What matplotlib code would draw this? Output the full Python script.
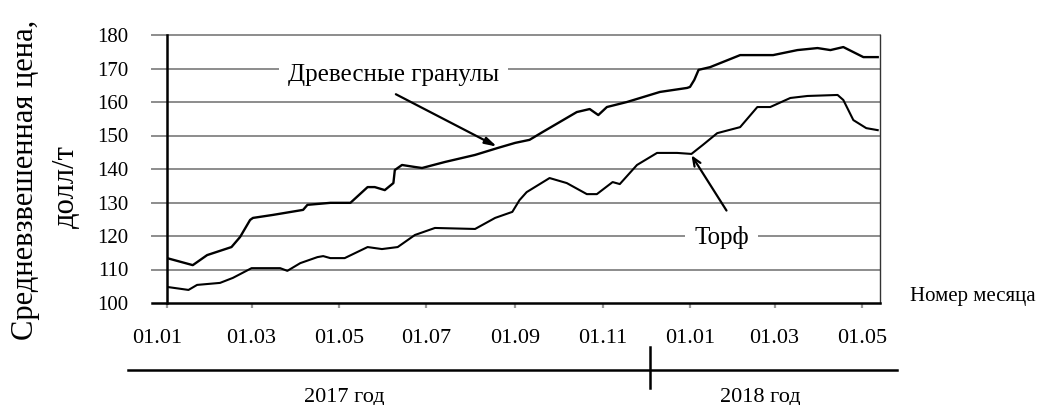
import matplotlib.pyplot as plt
from matplotlib.transforms import ScaledTranslation, blended_transform_factory

plt.rcParams['font.family'] = ['Liberation Serif', 'DejaVu Serif']

# days counted from 01.01.2017
wood_days = [0, 18, 28, 45, 51, 58, 60, 74, 95, 98, 114, 128, 140, 145, 152, 158, 159, 164,
             173, 178, 194, 215, 231, 243, 253, 262, 274, 286, 295, 301, 307, 321, 344, 363,
             365, 368, 371, 379, 400, 423, 440, 454, 463, 472, 479, 486, 496]
wood_price = [113.4, 111.3, 114.3, 116.7, 119.7, 124.8, 125.4, 126.3, 127.8, 129.3, 129.9, 129.9,
              134.6, 134.6, 133.7, 135.8, 139.7, 141.2, 140.6, 140.3, 142.1, 144.2, 146.3, 147.8,
              148.7, 151.0, 154.0, 157.0, 157.9, 156.1, 158.5, 160.0, 163.0, 164.2, 164.5, 166.6,
              169.6, 170.4, 174.0, 174.0, 175.5, 176.1, 175.5, 176.4, 174.9, 173.4, 173.4]

peat_days = [0, 15, 21, 37, 46, 59, 79, 84, 93, 105, 109, 114, 124, 140, 150, 161, 173, 187,
             215, 229, 241, 246, 251, 267, 279, 293, 300, 311, 316, 328, 342, 356, 366, 374,
             384, 400, 412, 421, 435, 447, 468, 472, 479, 488, 496]
peat_price = [104.8, 103.9, 105.4, 106.0, 107.5, 110.4, 110.4, 109.6, 111.9, 113.7, 114.0, 113.4,
              113.4, 116.7, 116.1, 116.7, 120.3, 122.4, 122.1, 125.4, 127.2, 130.7, 133.1, 137.3,
              135.8, 132.5, 132.5, 136.1, 135.5, 141.2, 144.8, 144.8, 144.5, 147.2, 150.7, 152.5,
              158.5, 158.5, 161.2, 161.8, 162.1, 160.6, 154.6, 152.2, 151.6]

tick_days = [0, 59, 120, 181, 243, 304, 365, 424, 485]
tick_labels = ['01.01', '01.03', '01.05', '01.07', '01.09', '01.11', '01.01', '01.03', '01.05']
y_ticks = [100, 110, 120, 130, 140, 150, 160, 170, 180]
year_labels = ['2017 год', '2018 год']
year_label_days = [124, 414]
year_split_day = 337

fig = plt.figure(figsize=(10.48, 4.05), dpi=100)
ax = fig.add_axes([167 / 1048, 1 - 303 / 405, 713 / 1048, 268 / 405])
ax.set_xlim(0, 497.6)
ax.set_ylim(100, 180)

# grid lines reach a bit left of the axis
for v in y_ticks[1:]:
    ax.axhline(v, xmin=-0.021, xmax=1, color='#8c8c8c', lw=1.4, clip_on=False, zorder=1)
ax.axhline(100, xmin=-0.021, xmax=1, color='black', lw=1.8, clip_on=False, zorder=3)

ax.plot(wood_days, wood_price, color='black', lw=1.7, zorder=4)
ax.plot(peat_days, peat_price, color='black', lw=1.5, zorder=4)

ax.spines['top'].set_visible(False)
ax.spines['bottom'].set_visible(False)
ax.spines['left'].set_linewidth(1.8)
ax.spines['right'].set_linewidth(1.0)
ax.spines['right'].set_color('#333333')

ax.set_yticks(y_ticks)
ax.tick_params(axis='y', length=0, pad=28, labelsize=15)
ax.set_xticks(tick_days)
ax.set_xticklabels(tick_labels)
ax.tick_params(axis='x', length=3.6, width=1.6, color='#999999', pad=15, labelsize=16)
lbls = ax.get_xticklabels()
lbls[0].set_transform(lbls[0].get_transform() + ScaledTranslation(-0.1, 0, fig.dpi_scale_trans))

# labels with arrows
box = dict(boxstyle='square,pad=0.35', fc='white', ec='none')
ax.text(158, 168.1, 'Древесные гранулы', fontsize=18, ha='center', va='center', bbox=box, zorder=5)
ax.annotate('', xy=(232, 146.3), xytext=(158, 162.7),
            arrowprops=dict(arrowstyle='-|>,head_length=0.7,head_width=0.2', color='black', lw=1.6),
            zorder=6)
ax.text(387, 119.7, 'Торф', fontsize=18, ha='center', va='center', bbox=box, zorder=5)
ax.annotate('', xy=(365, 144.8), xytext=(391.5, 126.9),
            arrowprops=dict(arrowstyle='->,head_length=0.6,head_width=0.25', color='black', lw=1.6),
            zorder=6)

# year bar under the month labels
tr = blended_transform_factory(ax.transData, ax.transAxes)
ax.plot([-0.055, 1.024], [-0.25, -0.25], transform=ax.transAxes, color='black', lw=1.8, clip_on=False)
ax.plot([year_split_day, year_split_day], [-0.164, -0.317], transform=tr, color='black', lw=1.8, clip_on=False)
for d, t in zip(year_label_days, year_labels):
    ax.text(d, -0.351, t, transform=tr, fontsize=16, ha='center', va='center')

fig.text(910 / 1048, 1 - 297 / 405, 'Номер месяца', fontsize=15, ha='left', va='center')
fig.text(26 / 1048, 1 - 180 / 405, 'Средневзвешенная цена,', fontsize=22, rotation=90, ha='center', va='center')
fig.text(66 / 1048, 1 - 187 / 405, 'долл/т', fontsize=22, rotation=90, ha='center', va='center')

fig.savefig('out.png', dpi=100)
